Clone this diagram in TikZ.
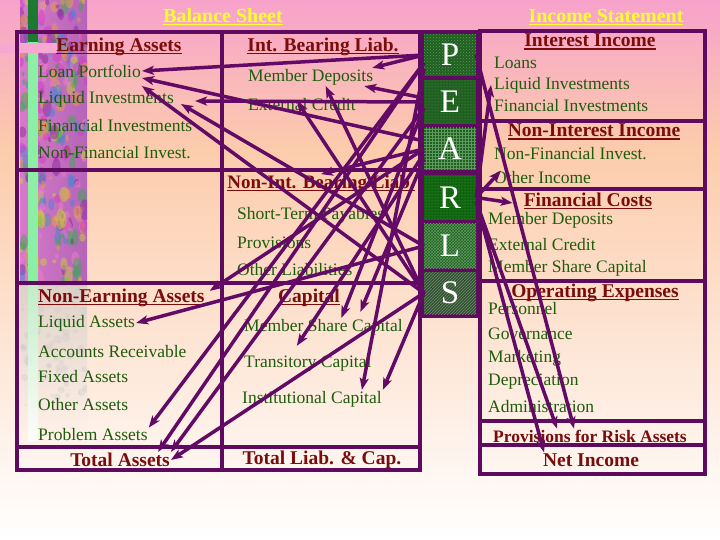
\documentclass[tikz,border=0pt]{standalone}
\usepackage{fontspec}
\setmainfont{Liberation Serif}
\usetikzlibrary{arrows.meta,calc,patterns}
\definecolor{frame}{HTML}{5E0A5E}
\definecolor{linkpurple}{HTML}{620A66}
\definecolor{itemgreen}{HTML}{1F5C0C}
\definecolor{headred}{HTML}{7A0C0C}
\definecolor{titleyellow}{HTML}{FFFF30}
\definecolor{pinktop}{HTML}{F7A2CB}
\definecolor{peach}{HTML}{FCCCAC}
\definecolor{pearlgreen}{HTML}{1F5F1F}
\definecolor{pearldeep}{HTML}{0E650E}
\definecolor{pearlslate}{HTML}{3A4A3A}
\definecolor{patgreen}{HTML}{5E9A5E}
\definecolor{stripbase}{HTML}{B564B8}
\definecolor{stripedge}{HTML}{D67AC8}
\definecolor{fadetop}{HTML}{D9CFC8}
\definecolor{darkbar}{HTML}{1B7A30}
\definecolor{lightbar}{HTML}{8CF0A4}
\definecolor{pinkbar}{HTML}{F7A8D2}
\definecolor{blob0}{HTML}{D838C8}
\definecolor{blob1}{HTML}{8A2C9E}
\definecolor{blob2}{HTML}{3DAA52}
\definecolor{blob3}{HTML}{C8D03C}
\definecolor{blob4}{HTML}{4A84D4}
\definecolor{blob5}{HTML}{F27CC4}
\definecolor{blob6}{HTML}{E2A444}
\newcommand{\undl}[1]{\setbox0=\hbox{#1}\rlap{\rule[-2.8pt]{\wd0}{1.5pt}}\box0}
\tikzset{
  >={Stealth[length=12pt,width=9pt,inset=3pt]},
  entry/.style={anchor=west,inner sep=1pt,text=itemgreen,font=\fontsize{17.5}{20}\selectfont},
  colhead/.style={inner sep=1pt,text=headred,font=\fontsize{19.5}{22}\selectfont\bfseries},
  totalrow/.style={inner sep=1pt,text=headred,font=\fontsize{19.5}{22}\selectfont\bfseries},
  sheettitle/.style={inner sep=1pt,text=titleyellow,font=\fontsize{20}{22}\selectfont\bfseries},
  pearlbox/.style={minimum width=52pt,inner sep=0pt,text=white,font=\fontsize{33}{36}\selectfont},
  tableline/.style={line width=4.5pt,draw=frame},
  link/.style={->,line width=3.5pt,draw=linkpurple}
}
\begin{document}
\begin{tikzpicture}[x=1pt,y=-1pt]
  \useasboundingbox (0,0) rectangle (720,540);
  % background
  \shade[top color=pinktop,bottom color=peach] (0,0) rectangle (720,150);
  \shade[top color=peach,bottom color=white] (0,150) rectangle (720,540);
  % decorative strip on the left
  \begin{scope}
    \clip (20,0) rectangle (87,285);
    \shade[left color=stripedge,right color=stripbase] (20,0) rectangle (87,285);
    \pgfmathsetseed{11}
    \foreach \i in {1,...,260}{
      \pgfmathsetmacro\bx{20+67*rnd}
      \pgfmathsetmacro\by{285*rnd}
      \pgfmathsetmacro\br{1.5+3.5*rnd}
      \pgfmathsetmacro\bh{\br*(1+1.5*rnd)}
      \pgfmathtruncatemacro\bc{mod(\i,7)}
      \fill[blob\bc,opacity=.5] (\bx,\by) ellipse ({\br pt} and {\bh pt});
    }
  \end{scope}
  \begin{scope}
    \clip (20,285) rectangle (87,430);
    \shade[top color=fadetop,bottom color=peach!30!white,opacity=.8] (20,285) rectangle (87,430);
    \pgfmathsetseed{5}
    \foreach \i in {1,...,70}{
      \pgfmathsetmacro\bx{20+67*rnd}
      \pgfmathsetmacro\by{285+120*rnd}
      \pgfmathsetmacro\br{1.5+3*rnd}
      \fill[gray!40,opacity=.35] (\bx,\by) circle ({\br pt});
    }
  \end{scope}
  \fill[darkbar] (28,0) rectangle (38,42);
  \fill[lightbar] (28,42) rectangle (38,285);
  \shade[top color=lightbar!60!white,bottom color=white,opacity=.8] (28,285) rectangle (38,440);
  \fill[pinkbar] (0,43) rectangle (57,53);
  % balance sheet frame
  \draw[tableline] (17,32) rectangle (420,470);
  \draw[tableline] (222,32) -- (222,470);
  \draw[tableline] (17,170) -- (420,170) (17,283) -- (420,283) (17,447) -- (420,447);
  % income statement frame
  \fill[frame] (418,29.75) rectangle (481,318);
  \draw[tableline] (480,31) rectangle (705,474);
  \foreach \y in {121,189,281,421,445}
    \draw[tableline] (480,\y) -- (705,\y);
  % PEARLS column
  \foreach \name/\y/\h/\tone/\pat in {P/55/42/pearlgreen/crosshatch dots,
      E/102/44/pearlgreen/dots, A/149/42/pearlgreen/grid, R/197.5/45/pearldeep/dots,
      L/246/44/pearlgreen/crosshatch, S/293/42/pearlslate/north east lines}
    \node[pearlbox,fill=\tone,minimum height=\h pt,
      postaction={pattern=\pat,pattern color=patgreen}] (\name) at (450,\y) {\name};
  % titles
  \node[sheettitle] (bsTitle) at (223,17) {\undl{Balance Sheet}};
  \node[sheettitle] (isTitle) at (606,17) {\undl{Income Statement}};
  % balance sheet, assets
  \node[colhead] (hEarn) at (119,47) {\undl{Earning Assets}};
  \node[entry] (loan) at (37,71) {Loan Portfolio};
  \node[entry] (liqInv) at (37,99) {Liquid Investments};
  \node[entry] (finInv) at (37,126) {Financial Investments};
  \node[entry] (nonFin) at (37,153) {Non-Financial Invest.};
  \node[colhead,anchor=west] (hNonEarn) at (37,298) {\undl{Non-Earning Assets}};
  \node[entry] (liqAss) at (37,323) {Liquid Assets};
  \node[entry] (accRec) at (37,352) {Accounts Receivable};
  \node[entry] (fixAss) at (37,377) {Fixed Assets};
  \node[entry] (othAss) at (37,405) {Other Assets};
  \node[entry] (probAss) at (37,435) {Problem Assets};
  \node[totalrow] (totAss) at (120,460) {Total Assets};
  % balance sheet, liabilities and capital
  \node[colhead] (hIBL) at (323,47) {\undl{Int. Bearing Liab.}};
  \node[entry] (memDep) at (247,77) {Member Deposits};
  \node[entry] (extCred) at (247,105) {External Credit};
  \node[colhead,font=\fontsize{19}{22}\selectfont\bfseries] (hNIBL) at (321,184) {\undl{Non-Int. Bearing Liab.}};
  \node[entry] (stPay) at (236,215) {Short-Term Payables};
  \node[entry] (prov) at (236,243) {Provisions};
  \node[entry] (othLiab) at (236,270) {Other Liabilities};
  \node[colhead] (hCap) at (309,298) {\undl{Capital}};
  \node[entry] (memShare) at (243,327) {Member Share Capital};
  \node[entry] (transCap) at (243,363) {Transitory Capital};
  \node[entry] (instCap) at (241,399) {Institutional Capital};
  \node[totalrow] (totLiab) at (322,460) {Total Liab. \& Cap.};
  % income statement
  \node[colhead] (hIntInc) at (590,42) {\undl{Interest Income}};
  \node[entry] (loans) at (493,63) {Loans};
  \node[entry] (rLiqInv) at (493,85) {Liquid Investments};
  \node[entry] (rFinInv) at (493,106) {Financial Investments};
  \node[colhead] (hNonInt) at (594,132) {\undl{Non-Interest Income}};
  \node[entry] (rNonFin) at (493,154) {Non-Financial Invest.};
  \node[entry] (othInc) at (493,178) {Other Income};
  \node[colhead] (hFinCost) at (588,201) {\undl{Financial Costs}};
  \node[entry] (rMemDep) at (487,220) {Member Deposits};
  \node[entry] (rExtCred) at (487,245) {External Credit};
  \node[entry] (rMemShare) at (487,268) {Member Share Capital};
  \node[colhead] (hOpExp) at (595,293) {\undl{Operating Expenses}};
  \node[entry] (pers) at (487,309) {Personnel};
  \node[entry] (gov) at (487,334) {Governance};
  \node[entry] (mark) at (487,358) {Marketing};
  \node[entry] (deprec) at (487,382) {Depreciation};
  \node[entry] (admin) at (487,407) {Administration};
  \node[totalrow,font=\fontsize{17.5}{20}\selectfont\bfseries] (provRisk) at (590,436) {Provisions for Risk Assets};
  \node[totalrow] (netInc) at (591,460) {Net Income};
  % links into the balance sheet
  \foreach \from/\fy/\to/\tx/\ty in {
      P.west/0/loan.east/0/0, P.west/0/memDep.north east/-2/0,
      P.west/-8/probAss.north east/0/0, P.west/-8/totAss.north/38/0,
      P.west/-14/instCap.north/50/0,
      E.west/0/liqInv.east/20/-2, E.west/4/memDep.south east/-10/0,
      E.west/-6/totAss.north east/0/0, E.west/-6/memShare.north/18/0,
      A.west/8/loan.east/0/-7, A.west/0/hNIBL.north/0/0,
      A.west/0/hNonEarn.north east/4/-3, A.west/-5/transCap.north/-11/8,
      A.west/-10/memShare.north/37/6,
      L.west/0/liqInv.east/6/-5, L.west/0/liqAss.east/0/0,
      S.west/0/loan.east/0/-15, S.west/0/memDep.south/15/0,
      S.west/0/extCred.center/-5/4, S.west/0/totAss.east/0/0,
      S.west/0/instCap.north east/0/0}
    \draw[link] ([yshift=\fy pt]\from) -- ([xshift=\tx pt,yshift=\ty pt]\to);
  % links into the income statement
  \foreach \from/\fy/\to/\tx/\ty in {
      P.east/0/provRisk.north/-16/0, R.east/0/rLiqInv.west/-2/0,
      R.east/0/othInc.north west/8/0, R.east/0/hFinCost.west/-10/-2,
      R.east/-4/provRisk.north/-33/0, R.east/-4/netInc.north/-47/0}
    \draw[link] ([yshift=\fy pt]\from) -- ([xshift=\tx pt,yshift=\ty pt]\to);
\end{tikzpicture}
\end{document}
